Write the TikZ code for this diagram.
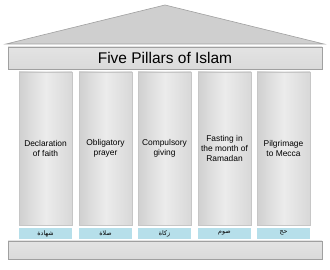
\documentclass[tikz,border=0pt]{standalone}
\usepackage{fontspec}
\setmainfont{Liberation Sans}
\newfontfamily\arabicfont[Script=Arabic]{DejaVu Sans}
\TeXXeTstate=1
\usepackage{xcolor}
\usetikzlibrary{positioning}
\definecolor{templeedge}{HTML}{A0A0A0}
\definecolor{templefill}{HTML}{DADADA}
\definecolor{rooffill}{HTML}{CFCFCF}
\definecolor{pillardark}{HTML}{D0D0D0}
\definecolor{pillarlight}{HTML}{ECECEC}
\definecolor{pillarright}{HTML}{D8D8D8}
\definecolor{labelblue}{HTML}{B6DFEA}

\begin{document}
\begin{tikzpicture}[
  x=1pt, y=1pt,
  roof/.style={draw=templeedge, fill=rooffill, line width=0.6pt},
  beam/.style={
    draw=templeedge, line width=0.6pt, top color=templefill!75!white,
    bottom color=templefill, minimum width=314pt, inner sep=0pt
  },
  pillar/.style={
    draw=templeedge!60, line width=0.4pt, left color=pillardark,
    right color=pillarright, middle color=pillarlight,
    minimum width=53pt, minimum height=153pt, inner sep=1pt,
    align=center, font=\fontsize{8.4}{10.4}\selectfont
  },
  arlabel/.style={
    fill=labelblue, minimum width=53pt, minimum height=11pt, inner sep=0pt,
    font=\arabicfont\fontsize{6.3}{7}\selectfont
  },
]
\useasboundingbox (0,0) rectangle (330,270);

% roof
\draw[roof] (6,226) -- (165,265) -- (324,226) -- cycle;

% entablature
\node[beam, minimum height=22pt, font=\fontsize{15.5}{18}\selectfont]
  (title) at (165,212) {Five Pillars of Islam};

% pillars
\node[pillar] (p1) at (45.5,121.5) {Declaration\\of faith};
\node[pillar] (p2) at (105.5,121.5) {Obligatory\\prayer};
\node[pillar] (p3) at (164.5,121.5) {Compulsory\\giving};
\node[pillar] (p4) at (224.5,121.5) {Fasting in\\the month of\\Ramadan};
\node[pillar] (p5) at (283.5,121.5) {Pilgrimage\\to Mecca};

% arabic names
\node[arlabel, below=2.5pt of p1] (a1) {\beginR شهادة\endR};
\node[arlabel, below=2.5pt of p2] (a2) {\beginR صلاة\endR};
\node[arlabel, below=2.5pt of p3] (a3) {\beginR زكاة\endR};
\node[arlabel, below=2.5pt of p4] (a4) {\beginR صوم\endR};
\node[arlabel, below=2.5pt of p5] (a5) {\beginR حج\endR};

% base
\node[beam, minimum height=18pt] (base) at (165,20) {};
\end{tikzpicture}
\end{document}
